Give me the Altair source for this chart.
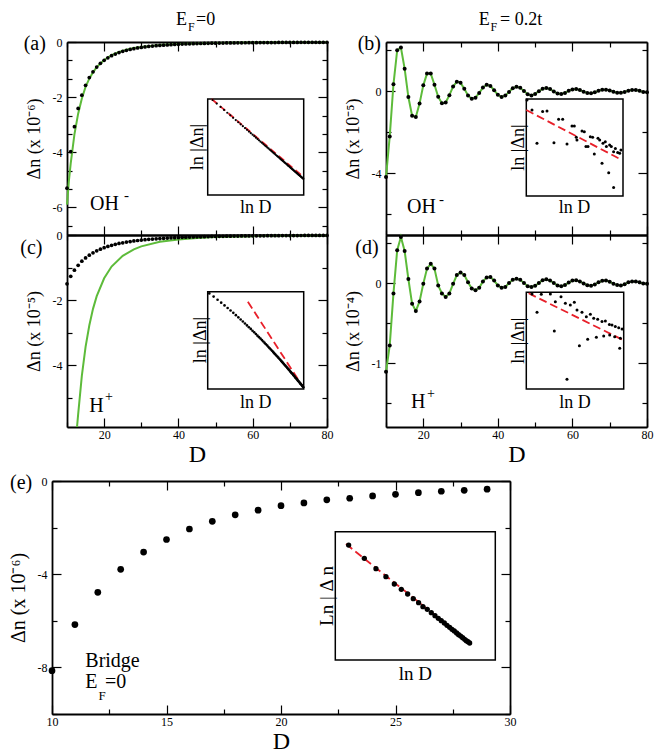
import altair as alt
import numpy as np
import pandas as pd

FONT = "Times New Roman, Liberation Serif, serif"
GREEN = "#5dbb3a"
RED = "#e8202a"

# ---------------- data ----------------
D71 = list(range(10, 81))

# (a) OH-, EF=0, x1e-6
dn_a = [-5.30, -3.98, -3.07, -2.41, -1.93, -1.57, -1.29, -1.08, -0.909, -0.773,
        -0.663, -0.572, -0.498, -0.436, -0.383, -0.339, -0.302, -0.269, -0.241, -0.217,
        -0.196, -0.178, -0.162, -0.147, -0.135, -0.124, -0.114, -0.105, -0.0966, -0.0893,
        -0.0828, -0.0769, -0.0715, -0.0667, -0.0622, -0.0582, -0.0545, -0.0510, -0.0479, -0.0450,
        -0.0424, -0.0400, -0.0377, -0.0356, -0.0337, -0.0319, -0.0302, -0.0286, -0.0272, -0.0258,
        -0.0245, -0.0233, -0.0222, -0.0212, -0.0202, -0.0193, -0.0184, -0.0176, -0.0169, -0.0161,
        -0.0155, -0.0148, -0.0142, -0.0136, -0.0131, -0.0126, -0.0121, -0.0116, -0.0112, -0.0107,
        -0.0104]
green_a_D = [10, 10.5, 11, 12, 13, 14, 15, 16, 17, 18, 20, 22, 24, 26, 28, 30, 35, 40, 45, 50, 60, 70, 80]
green_a = [-5.9, -5.05, -4.4, -3.35, -2.6, -2.05, -1.63, -1.33, -1.10, -0.91, -0.65, -0.48, -0.36,
           -0.28, -0.22, -0.18, -0.11, -0.07, -0.05, -0.035, -0.02, -0.012, -0.008]

# (b) OH-, EF=0.2t, x1e-5
dn_b = [-4.18, -2.20, 0.34, 2.00, 2.13, 1.10, -0.28, -1.19, -1.25, -0.60,
        0.29, 0.86, 0.86, 0.32, -0.27, -0.58, -0.55, -0.19, 0.23, 0.47,
        0.41, 0.12, -0.20, -0.37, -0.31, -0.08, 0.18, 0.32, 0.26, 0.05,
        -0.17, -0.28, -0.21, -0.03, 0.15, 0.22, 0.17, 0.01, -0.14, -0.20,
        -0.13, 0.00, 0.12, 0.16, 0.11, -0.01, -0.11, -0.13, -0.08, 0.02,
        0.09, 0.11, 0.06, -0.02, -0.08, -0.10, -0.05, 0.02, 0.07, 0.08,
        0.04, -0.02, -0.07, -0.07, -0.03, 0.03, 0.06, 0.06, 0.02, -0.03,
        -0.05]

# (c) H+, EF=0, x1e-5
dn_c = [-1.50, -1.27, -1.08, -0.930, -0.806, -0.705, -0.619, -0.548, -0.487, -0.435,
        -0.390, -0.351, -0.317, -0.287, -0.261, -0.239, -0.218, -0.200, -0.184, -0.169,
        -0.156, -0.145, -0.134, -0.125, -0.116, -0.108, -0.101, -0.0941, -0.0880, -0.0825,
        -0.0774, -0.0727, -0.0683, -0.0643, -0.0606, -0.0572, -0.0540, -0.0510, -0.0483, -0.0457,
        -0.0434, -0.0412, -0.0390, -0.0371, -0.0353, -0.0336, -0.0320, -0.0305, -0.0291, -0.0277,
        -0.0265, -0.0253, -0.0242, -0.0232, -0.0222, -0.0212, -0.0203, -0.0194, -0.0187, -0.0179,
        -0.0172, -0.0165, -0.0159, -0.0153, -0.0147, -0.0141, -0.0136, -0.0131, -0.0126, -0.0122,
        -0.0117]
green_c_D = [12.7, 13, 14, 15, 16, 17, 18, 20, 22, 25, 28, 30, 35, 40, 45, 50, 60, 70, 80]
green_c = [-5.9, -5.51, -4.32, -3.44, -2.78, -2.27, -1.88, -1.33, -0.97, -0.64, -0.44, -0.35,
           -0.21, -0.135, -0.09, -0.065, -0.035, -0.021, -0.014]

# (d) H+, EF=0.2t, x1e-4
dn_d = [-1.11, -0.78, -0.13, 0.41, 0.575, 0.40, 0.05, -0.26, -0.35, -0.23,
        -0.01, 0.18, 0.24, 0.18, -0.03, -0.13, -0.175, -0.13, -0.01, 0.10,
        0.13, 0.10, 0.01, -0.07, -0.09, -0.06, 0.02, 0.07, 0.075, 0.03,
        -0.03, -0.06, -0.05, 0.0, 0.04, 0.054, 0.04, 0.0, -0.04, -0.05,
        -0.035, 0.0, 0.035, 0.046, 0.03, 0.0, -0.03, -0.04, -0.025, 0.005,
        0.03, 0.035, 0.02, -0.005, -0.028, -0.033, -0.018, 0.008, 0.027, 0.03,
        0.015, -0.008, -0.026, -0.03, -0.015, 0.008, 0.02, 0.02, 0.008, -0.005,
        -0.01]

# (e) Bridge, EF=0, x1e-6
D_e = list(range(10, 30))
dn_e = [-8.14, -6.16, -4.78, -3.79, -3.05, -2.51, -2.06, -1.73, -1.45, -1.25,
        -1.06, -0.94, -0.81, -0.74, -0.64, -0.57, -0.50, -0.44, -0.40, -0.35]

# insets (ln D, ln|dn|)
ib_lnD = [2.285, 2.395, 2.505, 2.630, 2.726, 2.879, 2.982, 3.071, 3.167, 3.276, 3.328, 3.371,
          3.386, 3.497, 3.548, 3.584, 3.629, 3.680, 3.731, 3.768, 3.849, 3.886, 3.938, 3.959,
          4.010, 4.034, 4.085, 4.106, 4.142, 4.193, 4.232, 4.283, 4.327, 4.355, 4.193]
ib_ln = [-10.15, -10.60, -12.11, -10.67, -10.64, -12.08, -11.02, -11.02, -12.14, -11.32, -11.32,
         -11.84, -11.96, -11.55, -11.58, -12.26, -12.26, -11.81, -11.84, -12.59, -11.88, -11.96,
         -13.02, -12.11, -12.04, -12.26, -13.44, -12.19, -12.26, -12.49, -12.34, -12.53, -12.56,
         -12.41, -14.12]
ib_fit_lnD = [2.27, 4.304]
ib_fit_ln = [-10.60, -12.79]

id_lnD = [2.394, 2.504, 2.598, 2.796, 2.883, 2.905, 3.029, 3.124, 3.160, 3.233, 3.320, 3.379,
          3.431, 3.488, 3.583, 3.612, 3.671, 3.744, 3.802, 3.831, 3.925, 3.963, 3.999, 4.087,
          4.094, 4.144, 4.203, 4.217, 4.291, 4.313, 4.327, 4.364]
id_ln = [-8.98, -9.81, -8.99, -8.98, -10.66, -9.33, -9.10, -9.40, -12.86, -9.48, -9.35, -9.70,
         -11.33, -9.81, -10.01, -11.04, -9.90, -10.08, -10.95, -10.13, -10.23, -10.89, -10.21,
         -10.36, -10.84, -10.39, -10.92, -10.46, -10.51, -11.45, -10.99, -10.57]
id_fit_lnD = [2.321, 4.385]
id_fit_ln = [-8.946, -11.07]

ie_lnD = [1.246, 1.535, 1.750, 1.934, 2.088, 2.217, 2.334, 2.438, 2.536, 2.616, 2.696, 2.770,
          2.838, 2.899, 2.954, 3.010, 3.059, 3.108, 3.151, 3.194, 3.237, 3.274, 3.311, 3.348,
          3.385, 3.415, 3.446, 3.477]
ie_ln = [-11.864, -12.227, -12.509, -12.727, -12.927, -13.073, -13.200, -13.327, -13.436, -13.545,
         -13.618, -13.709, -13.791, -13.864, -13.927, -13.991, -14.055, -14.109, -14.164, -14.209,
         -14.264, -14.309, -14.346, -14.391, -14.437, -14.473, -14.500, -14.536]
ie_fit_lnD = [1.197, 3.508]
ie_fit_ln = [-11.836, -14.564]

ia_fit_lnD = [2.28, 4.38]
ia_fit_ln = [-12.07, -18.23]
ic_fit_lnD = [3.155, 4.382]
ic_fit_ln = [-11.54, -15.975]

# ---------------- layout ----------------
WT, HT = 595, 672
PA = (15, 0, 260, 193)
PB = (334, 0, 261, 193)
PC = (15, 193, 260, 192)
PD = (334, 193, 261, 192)
PE = (0, 439, 458, 233)
IA = (155.7, 57, 96, 96)
IB = (474.3, 57, 96.7, 97)
IC = (155.7, 249.7, 96, 97.3)
ID = (474.3, 250.3, 97.4, 96.7)
IE = (283.3, 489.7, 160, 128.3)


def sc(dom, rng):
    return alt.Scale(domain=list(dom), range=list(rng), nice=False, zero=False)


def xr(P):
    return [P[0], P[0] + P[2]]


def yr(P):
    return [P[1] + P[3], P[1]]


def pts(df, P, xdom, ydom, size, xf="D", yf="v"):
    return alt.Chart(df).mark_circle(size=size, color="black", opacity=1).encode(
        x=alt.X(f"{xf}:Q", scale=sc(xdom, xr(P)), axis=None),
        y=alt.Y(f"{yf}:Q", scale=sc(ydom, yr(P)), axis=None))


def lin(df, P, xdom, ydom, color, width, dash=None, xf="D", yf="v"):
    kw = dict(color=color, strokeWidth=width)
    if dash:
        kw["strokeDash"] = dash
    return alt.Chart(df).mark_line(**kw).encode(
        x=alt.X(f"{xf}:Q", scale=sc(xdom, xr(P)), axis=None),
        y=alt.Y(f"{yf}:Q", scale=sc(ydom, yr(P)), axis=None))


def frame(I, xdom, ydom):
    df = pd.DataFrame({"x0": [xdom[0]], "x1": [xdom[1]], "y0": [ydom[0]], "y1": [ydom[1]]})
    return alt.Chart(df).mark_rect(fill="white", stroke="black", strokeWidth=1.5).encode(
        x=alt.X("x0:Q", scale=sc(xdom, xr(I)), axis=None), x2="x1:Q",
        y=alt.Y("y0:Q", scale=sc(ydom, yr(I)), axis=None), y2="y1:Q")


def tsize(mod):
    return {"condition": {"test": f"abs(datum.value % {mod}) < 1e-6", "value": 9}, "value": 5}


def axes(P, xdom, ydom, xmaj, xmin, xmod, ymaj, ymin, ymod, ytitle, xlabels, ytsize=18, xtitle="D"):
    l, t, w, h = P
    df = pd.DataFrame({"x": [xdom[0]], "y": [ydom[0]]})
    lab = dict(labelFont=FONT, labelFontSize=12, labelColor="black", labelExpr="datum.value + ''",
               labelFlush=False, labelOverlap=False, grid=False, ticks=False, domain=False,
               titleFont=FONT, titleFontWeight="normal", titleColor="black")
    if xlabels:
        ax1 = alt.Axis(orient="bottom", offset=-(HT - (t + h)), values=xmaj, labelPadding=2,
                       title=xtitle, titleFontSize=24, titlePadding=2, **lab)
    else:
        ax1 = None
    ay1 = alt.Axis(orient="left", offset=-l, values=ymaj, labelPadding=5, title=ytitle,
                   titleFontSize=ytsize, titlePadding=9, **lab)
    L1 = alt.Chart(df).mark_point(opacity=0).encode(
        x=alt.X("x:Q", scale=sc(xdom, xr(P)), axis=ax1),
        y=alt.Y("y:Q", scale=sc(ydom, yr(P)), axis=ay1))
    tk = dict(labels=False, ticks=True, tickColor="black", tickWidth=1.2, domain=True,
              domainColor="black", domainWidth=1.8, grid=False, title="")
    xt = sorted(xmaj + xmin)
    yt = sorted(ymaj + ymin)
    ax2 = alt.Axis(orient="top", offset=-(t + h), values=xt, tickSize=tsize(xmod), **tk)
    ay2 = alt.Axis(orient="right", offset=-(WT - l), values=yt, tickSize=tsize(ymod), **tk)
    ax3 = alt.Axis(orient="bottom", offset=-(HT - t), values=xt, tickSize=tsize(xmod), **tk)
    ay3 = alt.Axis(orient="left", offset=-(l + w), values=yt, tickSize=tsize(ymod), **tk)
    L2 = alt.Chart(df).mark_point(opacity=0).encode(
        x=alt.X("x:Q", scale=sc(xdom, xr(P)), axis=ax2),
        y=alt.Y("y:Q", scale=sc(ydom, yr(P)), axis=ay2))
    L3 = alt.Chart(df).mark_point(opacity=0).encode(
        x=alt.X("x:Q", scale=sc(xdom, xr(P)), axis=ax3),
        y=alt.Y("y:Q", scale=sc(ydom, yr(P)), axis=ay3))
    return [L1, L2, L3]


def txt(s, x, y, size, align="left", baseline="alphabetic", angle=0):
    kw = dict(font=FONT, fontSize=size, align=align, baseline=baseline, color="black")
    if angle:
        kw["angle"] = angle
    return alt.Chart(pd.DataFrame({"t": [s]})).mark_text(**kw).encode(
        x=alt.value(x), y=alt.value(y), text="t:N")


# ---------------- frames ----------------
df_a = pd.DataFrame({"D": D71, "v": dn_a})
df_a["lnD"] = np.log(df_a["D"])
df_a["ln"] = np.log(np.abs(df_a["v"]) * 1e-6)
df_ga = pd.DataFrame({"D": green_a_D, "v": green_a})
df_b = pd.DataFrame({"D": D71, "v": dn_b})
df_c = pd.DataFrame({"D": D71, "v": dn_c})
df_c["lnD"] = np.log(df_c["D"])
df_c["ln"] = np.log(np.abs(df_c["v"]) * 1e-5)
df_gc = pd.DataFrame({"D": green_c_D, "v": green_c})
df_d = pd.DataFrame({"D": D71, "v": dn_d})
df_e = pd.DataFrame({"D": D_e, "v": dn_e})

xdom = [10, 80]
xmaj = [20, 40, 60, 80]
xmin = [10, 30, 50, 70]
layers = []

# panel (a)
ydA = [-7, 0]
layers += axes(PA, xdom, ydA, xmaj, xmin, 20, [0, -2, -4, -6],
               [-0.6667, -1.3333, -2.6667, -3.3333, -4.6667, -5.3333, -6.6667], 2,
               "Δn (x 10⁻⁶)", False)
layers += [lin(df_ga, PA, xdom, ydA, GREEN, 2), pts(df_a, PA, xdom, ydA, 14)]
iax, iay = [2.19, 4.39], [-19.67, -12.07]
layers += [frame(IA, iax, iay),
           lin(pd.DataFrame({"D": ia_fit_lnD, "v": ia_fit_ln}), IA, iax, iay, RED, 1.8, [7, 4]),
           pts(df_a, IA, iax, iay, 5, "lnD", "ln")]

# panel (b)
ydB = [-7, 2.4]
layers += axes(PB, xdom, ydB, xmaj, xmin, 20, [0, -4], [2, -2, -6], 4, "Δn (x 10⁻⁵)", False)
layers += [lin(df_b, PB, xdom, ydB, GREEN, 2), pts(df_b, PB, xdom, ydB, 16)]
ibx, iby = [2.27, 4.40], [-14.5, -10.1]
layers += [frame(IB, ibx, iby),
           lin(pd.DataFrame({"D": ib_fit_lnD, "v": ib_fit_ln}), IB, ibx, iby, RED, 1.8, [8, 4]),
           pts(pd.DataFrame({"D": ib_lnD, "v": ib_ln}), IB, ibx, iby, 9)]

# panel (c)
ydC = [-5.9, 0]
layers += axes(PC, xdom, ydC, xmaj, xmin, 20, [0, -2, -4], [-1, -3, -5], 2, "Δn (x 10⁻⁵)", True)
layers += [lin(df_gc, PC, xdom, ydC, GREEN, 2), pts(df_c, PC, xdom, ydC, 14)]
icx, icy = [2.267, 4.39], [-16.05, -11.02]
layers += [frame(IC, icx, icy),
           lin(pd.DataFrame({"D": ic_fit_lnD, "v": ic_fit_ln}), IC, icx, icy, RED, 1.8, [8, 4]),
           pts(df_c, IC, icx, icy, 7, "lnD", "ln")]

# panel (d)
ydD = [-1.8, 0.6]
layers += axes(PD, xdom, ydD, xmaj, xmin, 20, [0, -1], [0.5, -0.5, -1.5], 1, "Δn (x 10⁻⁴)", True)
layers += [lin(df_d, PD, xdom, ydD, GREEN, 2), pts(df_d, PD, xdom, ydD, 16)]
idx, idy = [2.27, 4.40], [-13.3, -8.9]
layers += [frame(ID, idx, idy),
           lin(pd.DataFrame({"D": id_fit_lnD, "v": id_fit_ln}), ID, idx, idy, RED, 1.8, [8, 4]),
           pts(pd.DataFrame({"D": id_lnD, "v": id_ln}), ID, idx, idy, 9)]

# panel (e)
xdE, ydE = [10, 30], [-10, 0]
layers += axes(PE, xdE, ydE, [10, 15, 20, 25, 30], [12.5, 17.5, 22.5, 27.5], 5,
               [0, -4, -8], [-2, -6, -10], 4, "Δn (x 10⁻⁶)", True, ytsize=20)
layers += [pts(df_e, PE, xdE, ydE, 45)]
iex, iey = [1.0, 3.95], [-15.0, -11.5]
layers += [frame(IE, iex, iey),
           lin(pd.DataFrame({"D": ie_fit_lnD, "v": ie_fit_ln}), IE, iex, iey, RED, 1.8, [8, 4]),
           pts(pd.DataFrame({"D": ie_lnD, "v": ie_ln}), IE, iex, iey, 28)]

# ---------------- annotations ----------------
layers += [
    txt("(a)", -28.3, 8, 20), txt("(b)", 305.7, 8, 20), txt("(c)", -31.7, 212, 20),
    txt("(d)", 303.3, 212, 20), txt("(e)", -42, 447, 20),
    txt("E", 124, -17, 18), txt("F", 136, -11, 12), txt("=0", 144, -17, 18),
    txt("E", 426.7, -17, 18), txt("F", 438.5, -11, 12), txt("= 0.2t", 448, -17, 18),
    txt("OH", 38, 168, 20), txt("-", 72, 158, 15),
    txt("OH", 355, 171, 20), txt("-", 387, 162, 15),
    txt("H", 37.3, 369.7, 20), txt("+", 53, 359, 14),
    txt("H", 359, 366.3, 20), txt("+", 375, 356, 14),
    txt("Bridge", 33.3, 624.7, 20), txt("E", 33.3, 646.3, 20), txt("F", 46.5, 658, 13),
    txt("=0", 53, 646.3, 20),
    txt("ln |Δn|", 151, 105, 18, "center", "alphabetic", 270), txt("ln D", 203.7, 171, 18, "center"),
    txt("ln |Δn|", 471.7, 105.5, 18, "center", "alphabetic", 270), txt("ln D", 522.6, 171, 18, "center"),
    txt("ln |Δn|", 154, 298, 18, "center", "alphabetic", 270), txt("ln D", 203.7, 366, 18, "center"),
    txt("ln |Δn|", 471.7, 298.7, 18, "center", "alphabetic", 270), txt("ln D", 523, 366, 18, "center"),
    txt("Ln | Δ n", 281, 554, 19, "center", "alphabetic", 270), txt("ln D", 363.3, 638, 19, "center"),
]

chart = alt.layer(*layers).resolve_scale(x="independent", y="independent").properties(
    width=WT, height=HT, padding={"left": 0, "top": 3, "right": 5, "bottom": 0}
).configure_view(strokeOpacity=0)

chart.save("out.html", embed_options={"renderer": "svg", "actions": False})
